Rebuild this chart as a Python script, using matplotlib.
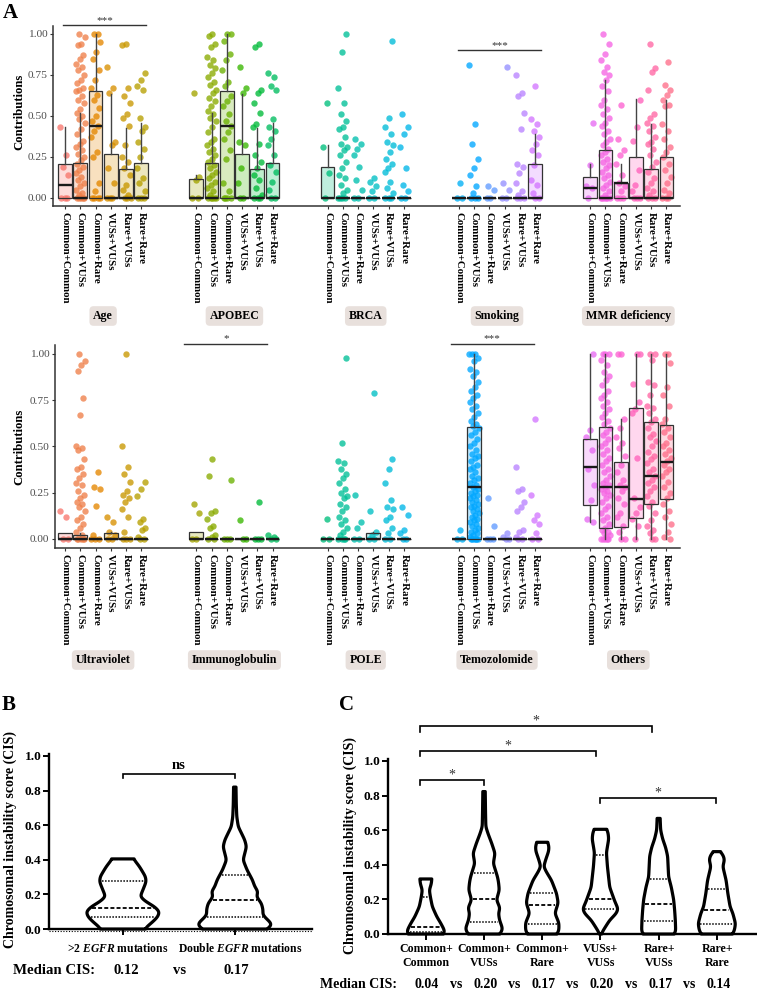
import numpy as np
import matplotlib
matplotlib.use('Agg')
import matplotlib.pyplot as plt

plt.rcParams['font.family'] = ['Liberation Serif', 'DejaVu Serif']
plt.rcParams['mathtext.fontset'] = 'custom'
plt.rcParams['mathtext.rm'] = 'Liberation Serif:bold'
plt.rcParams['mathtext.it'] = 'Liberation Serif:italic:bold'
plt.rcParams['mathtext.bf'] = 'Liberation Serif:bold'

# ------------------------------------------------------------------ DATA
groups = ["Common+Common", "Common+VUSs", "Common+Rare", "VUSs+VUSs", "Rare+VUSs", "Rare+Rare"]
top_facets = ["Age", "APOBEC", "BRCA", "Smoking", "MMR deficiency"]
bottom_facets = ["Ultraviolet", "Immunoglobulin", "POLE", "Temozolomide", "Others"]

# points (signature contributions) per group
pts_age = [
    [0.43, 0.26, 0.19, 0.14, 0.0, 0.0, 0.0],
    [1.0, 0.98, 0.94, 0.93, 0.87, 0.85, 0.82, 0.80, 0.78, 0.75, 0.72, 0.70, 0.67, 0.66, 0.65, 0.62, 0.60, 0.58,
     0.54, 0.52, 0.50, 0.48, 0.46, 0.42, 0.39, 0.35, 0.33, 0.31, 0.29, 0.27, 0.25, 0.23, 0.21, 0.19, 0.17, 0.15,
     0.13, 0.11, 0.09, 0.07, 0.05, 0.03, 0.02, 0.0, 0.0, 0.0, 0.0, 0.0],
    [1.0, 1.0, 0.95, 0.89, 0.85, 0.78, 0.72, 0.67, 0.63, 0.60, 0.55, 0.50, 0.47, 0.44, 0.41, 0.37, 0.28, 0.25,
     0.09, 0.04, 0.0, 0.0, 0.0, 0.0],
    [0.80, 0.67, 0.64, 0.34, 0.32, 0.18, 0.09, 0.0, 0.0, 0.0],
    [0.94, 0.93, 0.67, 0.62, 0.58, 0.51, 0.49, 0.44, 0.32, 0.25, 0.22, 0.18, 0.14, 0.08, 0.05, 0.02, 0.0, 0.0, 0.0],
    [0.76, 0.72, 0.68, 0.66, 0.49, 0.43, 0.41, 0.34, 0.30, 0.25, 0.18, 0.12, 0.09, 0.04, 0.0, 0.0, 0.0],
]
pts_apobec = [
    [0.64, 0.13, 0.11, 0.0, 0.0],
    [1.0, 0.99, 0.94, 0.92, 0.86, 0.84, 0.81, 0.79, 0.76, 0.74, 0.71, 0.69, 0.66, 0.64, 0.61, 0.59, 0.56, 0.53,
     0.51, 0.49, 0.47, 0.43, 0.40, 0.36, 0.34, 0.32, 0.30, 0.28, 0.26, 0.24, 0.22, 0.20, 0.18, 0.16, 0.14, 0.12,
     0.10, 0.08, 0.06, 0.04, 0.02, 0.0, 0.0, 0.0, 0.0, 0.0],
    [1.0, 1.0, 0.96, 0.88, 0.84, 0.78, 0.71, 0.68, 0.62, 0.59, 0.56, 0.51, 0.47, 0.44, 0.40, 0.36, 0.29, 0.24,
     0.09, 0.04, 0.0, 0.0, 0.0, 0.0],
    [0.80, 0.67, 0.64, 0.34, 0.32, 0.18, 0.09, 0.0, 0.0],
    [0.94, 0.92, 0.66, 0.64, 0.58, 0.52, 0.45, 0.43, 0.33, 0.26, 0.22, 0.18, 0.14, 0.11, 0.06, 0.02, 0.0, 0.0, 0.0],
    [0.76, 0.74, 0.68, 0.66, 0.48, 0.43, 0.41, 0.36, 0.32, 0.26, 0.20, 0.16, 0.10, 0.05, 0.0, 0.0],
]
pts_brca = [
    [0.58, 0.31, 0.15, 0.0],
    [1.0, 0.89, 0.67, 0.58, 0.51, 0.47, 0.43, 0.42, 0.37, 0.33, 0.31, 0.29, 0.26, 0.22, 0.18, 0.14, 0.12, 0.08,
     0.05, 0.03, 0.0, 0.0, 0.0, 0.0],
    [0.36, 0.33, 0.30, 0.26, 0.19, 0.11, 0.05, 0.0, 0.0],
    [0.12, 0.10, 0.07, 0.04, 0.0, 0.0],
    [0.96, 0.49, 0.43, 0.39, 0.34, 0.32, 0.28, 0.24, 0.21, 0.18, 0.16, 0.10, 0.06, 0.03, 0.0, 0.0, 0.0],
    [0.51, 0.43, 0.39, 0.31, 0.18, 0.08, 0.04, 0.0, 0.0],
]
pts_smoking = [
    [0.09, 0.0, 0.0],
    [0.81, 0.45, 0.33, 0.24, 0.18, 0.14, 0.07, 0.03, 0.0, 0.0, 0.0],
    [0.07, 0.05, 0.0, 0.0],
    [0.80, 0.09, 0.05, 0.0, 0.0],
    [0.75, 0.64, 0.62, 0.52, 0.42, 0.21, 0.19, 0.15, 0.09, 0.04, 0.02, 0.0, 0.0, 0.0],
    [0.68, 0.48, 0.45, 0.41, 0.37, 0.33, 0.29, 0.26, 0.20, 0.11, 0.08, 0.03, 0.0, 0.0],
]
pts_mmr = [
    [0.46, 0.20, 0.07, 0.06, 0.0],
    [1.0, 0.94, 0.88, 0.84, 0.80, 0.77, 0.75, 0.72, 0.68, 0.65, 0.60, 0.57, 0.54, 0.51, 0.49, 0.46, 0.44, 0.41,
     0.39, 0.36, 0.34, 0.32, 0.30, 0.28, 0.26, 0.24, 0.22, 0.20, 0.18, 0.16, 0.14, 0.12, 0.10, 0.08, 0.06, 0.04,
     0.02, 0.0, 0.0, 0.0, 0.0, 0.0, 0.0],
    [0.57, 0.36, 0.29, 0.26, 0.21, 0.14, 0.09, 0.07, 0.04, 0.0, 0.0, 0.0],
    [0.60, 0.43, 0.35, 0.17, 0.08, 0.04, 0.0, 0.0, 0.0],
    [0.94, 0.79, 0.77, 0.66, 0.51, 0.49, 0.46, 0.44, 0.41, 0.37, 0.34, 0.33, 0.30, 0.26, 0.22, 0.19, 0.16, 0.12,
     0.09, 0.06, 0.04, 0.02, 0.0, 0.0, 0.0],
    [0.83, 0.69, 0.66, 0.63, 0.60, 0.57, 0.56, 0.45, 0.41, 0.36, 0.31, 0.28, 0.25, 0.21, 0.17, 0.13, 0.09, 0.05,
     0.03, 0.0, 0.0, 0.0],
]
pts_uv = [
    [0.15, 0.12, 0.0, 0.0],
    [1.0, 0.96, 0.94, 0.91, 0.76, 0.67, 0.50, 0.49, 0.48, 0.43, 0.39, 0.38, 0.35, 0.33, 0.30, 0.29, 0.26, 0.24,
     0.22, 0.20, 0.19, 0.17, 0.15, 0.12, 0.10, 0.08, 0.06, 0.04, 0.02, 0.0, 0.0, 0.0, 0.0, 0.0],
    [0.36, 0.28, 0.27, 0.18, 0.02, 0.0, 0.0, 0.0],
    [0.12, 0.09, 0.04, 0.02, 0.0, 0.0],
    [1.0, 0.50, 0.39, 0.35, 0.31, 0.26, 0.24, 0.22, 0.20, 0.16, 0.12, 0.04, 0.0, 0.0, 0.0],
    [0.31, 0.27, 0.23, 0.11, 0.09, 0.06, 0.05, 0.01, 0.0, 0.0],
]
pts_immuno = [
    [0.19, 0.14, 0.0, 0.0],
    [0.43, 0.34, 0.15, 0.14, 0.11, 0.07, 0.06, 0.02, 0.01, 0.0, 0.0],
    [0.32, 0.0, 0.0, 0.0],
    [0.10, 0.0, 0.0],
    [0.20, 0.0, 0.0, 0.0],
    [0.02, 0.01, 0.0, 0.0],
]
pts_pole = [
    [0.11, 0.0, 0.0],
    [0.98, 0.52, 0.42, 0.41, 0.38, 0.35, 0.33, 0.30, 0.27, 0.25, 0.23, 0.22, 0.19, 0.17, 0.15, 0.12, 0.10, 0.08,
     0.06, 0.04, 0.02, 0.0, 0.0, 0.0, 0.0],
    [0.24, 0.09, 0.06, 0.0, 0.0],
    [0.79, 0.15, 0.04, 0.02, 0.0, 0.0],
    [0.43, 0.38, 0.30, 0.21, 0.17, 0.16, 0.12, 0.10, 0.06, 0.03, 0.0, 0.0],
    [0.17, 0.13, 0.05, 0.03, 0.0, 0.0],
]
pts_temo = [
    [0.05, 0.0, 0.0],
    [1.0, 1.0, 1.0, 0.98, 0.96, 0.92, 0.90, 0.88, 0.85, 0.82, 0.80, 0.78, 0.76, 0.74, 0.72, 0.70, 0.68, 0.66,
     0.64, 0.62, 0.61, 0.60, 0.58, 0.56, 0.54, 0.52, 0.50, 0.48, 0.46, 0.45, 0.44, 0.42, 0.40, 0.39, 0.38, 0.36,
     0.34, 0.33, 0.32, 0.30, 0.29, 0.28, 0.27, 0.26, 0.25, 0.24, 0.23, 0.22, 0.21, 0.20, 0.19, 0.18, 0.17, 0.16,
     0.15, 0.14, 0.13, 0.12, 0.11, 0.10, 0.09, 0.08, 0.07, 0.06, 0.05, 0.04, 0.03, 0.02, 0.01, 0.0, 0.0, 0.0,
     0.0, 0.0, 0.0],
    [0.22, 0.07, 0.0, 0.0, 0.0],
    [0.03, 0.01, 0.0, 0.0],
    [0.39, 0.27, 0.26, 0.20, 0.17, 0.15, 0.05, 0.04, 0.01, 0.0, 0.0],
    [0.65, 0.24, 0.13, 0.10, 0.08, 0.03, 0.0, 0.0],
]
pts_others = [
    [1.0, 0.59, 0.55, 0.48, 0.38, 0.29, 0.21, 0.11, 0.09],
    [1.0, 1.0, 1.0, 0.97, 0.94, 0.90, 0.88, 0.86, 0.83, 0.80, 0.78, 0.76, 0.74, 0.72, 0.70, 0.68, 0.66, 0.64,
     0.62, 0.60, 0.58, 0.56, 0.54, 0.52, 0.50, 0.48, 0.46, 0.44, 0.42, 0.40, 0.38, 0.36, 0.34, 0.32, 0.30, 0.29,
     0.28, 0.27, 0.26, 0.25, 0.24, 0.22, 0.20, 0.18, 0.16, 0.14, 0.12, 0.10, 0.08, 0.06, 0.05, 0.04, 0.03, 0.02,
     0.01, 0.0, 0.0, 0.0, 0.0, 0.0],
    [1.0, 1.0, 0.65, 0.60, 0.55, 0.52, 0.49, 0.45, 0.40, 0.36, 0.32, 0.29, 0.28, 0.26, 0.22, 0.19, 0.14, 0.12,
     0.07, 0.04, 0.0, 0.0],
    [1.0, 1.0, 0.84, 0.74, 0.70, 0.68, 0.44, 0.22, 0.17, 0.14, 0.11, 0.07, 0.0],
    [1.0, 1.0, 0.97, 0.85, 0.83, 0.78, 0.72, 0.71, 0.68, 0.65, 0.63, 0.60, 0.57, 0.55, 0.53, 0.50, 0.47, 0.45,
     0.43, 0.41, 0.38, 0.36, 0.34, 0.32, 0.30, 0.28, 0.26, 0.23, 0.20, 0.18, 0.14, 0.10, 0.07, 0.05, 0.03, 0.0, 0.0],
    [1.0, 1.0, 0.95, 0.82, 0.78, 0.72, 0.65, 0.62, 0.60, 0.58, 0.55, 0.52, 0.50, 0.48, 0.46, 0.44, 0.42, 0.40,
     0.38, 0.36, 0.34, 0.31, 0.28, 0.25, 0.22, 0.19, 0.15, 0.12, 0.08, 0.04, 0.01, 0.0],
]

# box statistics per group: (whisker low, q1, median, q3, whisker high)
Z = (0, 0, 0, 0, 0)
box_age = [(0, 0, 0.077, 0.21, 0.43), (0, 0, 0, 0.215, 0.52), (0, 0, 0.438, 0.652, 1.0),
           (0, 0, 0, 0.267, 0.637), (0, 0, 0, 0.179, 0.428), (0, 0, 0, 0.216, 0.46)]
box_apobec = [(0, 0, 0, 0.118, 0.14), (0, 0, 0, 0.215, 0.52), (0, 0, 0.438, 0.652, 1.0),
              (0, 0, 0, 0.267, 0.637), (0, 0, 0, 0.179, 0.428), (0, 0, 0, 0.216, 0.46)]
box_brca = [(0, 0, 0, 0.19, 0.32), Z, Z, Z, Z, Z]
box_smoking = [Z, Z, Z, Z, Z, (0, 0, 0, 0.206, 0.393)]
box_mmr = [(0, 0, 0.061, 0.13, 0.21), (0, 0, 0, 0.291, 0.72), (0, 0, 0.09, 0.09, 0.21),
           (0, 0, 0, 0.25, 0.603), (0, 0, 0, 0.179, 0.45), (0, 0, 0, 0.25, 0.60)]
box_uv = [(0, 0, 0, 0.03, 0.03), (0, 0, 0, 0.02, 0.03), Z, (0, 0, 0, 0.03, 0.04), Z, Z]
box_immuno = [(0, 0, 0, 0.035, 0.035), Z, Z, Z, Z, Z]
box_pole = [Z, Z, Z, (0, 0, 0, 0.03, 0.04), Z, Z]
box_temo = [Z, (0, 0, 0.281, 0.607, 1.0), Z, Z, Z, Z]
box_others = [(0.09, 0.184, 0.391, 0.539, 1.0), (0, 0.058, 0.281, 0.607, 1.0), (0, 0.067, 0.283, 0.414, 0.649),
              (0, 0.115, 0.214, 0.708, 1.0), (0, 0.187, 0.342, 0.631, 1.0), (0, 0.218, 0.416, 0.616, 1.0)]

# significance bars: (facet, start group, end group, y, label)
sig_top = [(0, -0.13, 5.33, 1.055, "***"), (3, -0.04, 5.36, 0.90, "***")]
sig_bottom = [(1, -0.79, 4.66, 1.056, "*"), (3, -0.52, 4.9, 1.056, "***")]

# Panel B: violin profiles (CIS value, relative density/half-width)
b_labels = [r">2 $\mathit{EGFR}$ mutations", r"Double $\mathit{EGFR}$ mutations"]
b_median_text = ["0.12", "0.17"]
b_v1_y = [0.0, 0.013, 0.042, 0.071, 0.10, 0.129, 0.158, 0.187, 0.225, 0.273, 0.302, 0.36, 0.405]
b_v1_w = [22, 24, 30, 35, 36.7, 31.7, 23, 17.3, 20, 23.3, 22.7, 16.7, 10.7]
b_v2_y = [0.0, 0.012, 0.033, 0.052, 0.081, 0.11, 0.148, 0.187, 0.216, 0.245, 0.283, 0.341, 0.399, 0.437,
          0.476, 0.514, 0.562, 0.591, 0.649, 0.72, 0.82]
b_v2_w = [31, 36, 36.7, 33, 28, 28.3, 26.7, 21.7, 23.3, 20, 17.7, 12.3, 8.3, 10, 11.7, 10, 6, 3.5, 2, 1.5, 1.2]
b_quart = [(0.067, 0.119, 0.28), (0.071, 0.168, 0.312)]   # (q1, median, q3)
b_sig = [(1, 2, 0.896, "ns")]

# Panel C
c_labels = ["Common+\nCommon", "Common+\nVUSs", "Common+\nRare", "VUSs+\nVUSs", "Rare+\nVUSs", "Rare+\nRare"]
c_median_text = ["0.04", "0.20", "0.17", "0.20", "0.17", "0.14"]
c_v_y = [
    [0.0, 0.008, 0.023, 0.062, 0.10, 0.158, 0.216, 0.254, 0.29, 0.318],
    [0.0, 0.01, 0.033, 0.081, 0.12, 0.15, 0.197, 0.254, 0.30, 0.33, 0.408, 0.466, 0.524, 0.58, 0.62, 0.70, 0.823],
    [0.0, 0.008, 0.025, 0.064, 0.12, 0.18, 0.235, 0.31, 0.36, 0.39, 0.43, 0.48, 0.51, 0.53],
    [0.0, 0.008, 0.035, 0.08, 0.12, 0.145, 0.19, 0.27, 0.39, 0.47, 0.55, 0.59, 0.605],
    [0.0, 0.01, 0.03, 0.08, 0.14, 0.20, 0.27, 0.33, 0.39, 0.45, 0.50, 0.55, 0.60, 0.668],
    [0.0, 0.01, 0.025, 0.06, 0.12, 0.157, 0.235, 0.31, 0.39, 0.43, 0.46, 0.476],
]
c_v_w = [
    [17, 19, 18.5, 15, 11, 6.5, 4.5, 3.5, 5.5, 6],
    [15, 17.5, 18.5, 15.5, 14.5, 16, 12.5, 15.3, 14.5, 13.5, 9.3, 11, 7.7, 4, 1.8, 1.5, 1.2],
    [14, 16, 16.7, 16.7, 12.7, 16, 14.3, 9.3, 4, 1.5, 3.5, 6.5, 6.7, 5.3],
    [1, 1.5, 4.3, 9.3, 16, 17.7, 14.3, 9.3, 7, 6, 8.3, 7.5, 6],
    [15, 17, 17, 16.7, 16, 15, 12.7, 10, 9.5, 9, 7, 4, 2, 1.5],
    [15, 17, 17.7, 18.7, 16, 13.3, 11, 9.3, 6, 7.7, 6, 3],
]
c_quart = [(0.012, 0.042, 0.216), (0.071, 0.20, 0.35), (0.058, 0.168, 0.239),
           (0.143, 0.202, 0.458), (0.077, 0.171, 0.318), (0.058, 0.139, 0.26)]
c_sig = [(0.9, 2.0, 0.89, "*"), (0.9, 3.93, 1.058, "*"), (0.9, 4.88, 1.20, "*"), (4.0, 5.98, 0.786, "*")]

# ------------------------------------------------------------------ STYLE / LAYOUT
W, H = 757, 992
fig = plt.figure(figsize=(W / 100, H / 100), dpi=100)


def axpx(x0, y0, x1, y1):
    return fig.add_axes([x0 / W, 1 - y1 / H, (x1 - x0) / W, (y1 - y0) / H])


def tpx(x, y, s, **kw):
    return fig.text(x / W, 1 - y / H, s, **kw)


def hue_color(i, n=30):
    h = 15 + 360.0 * i / n
    L, C = 65.0, 100.0
    hr = np.deg2rad(h)
    u, v = C * np.cos(hr), C * np.sin(hr)
    Xn, Yn, Zn = 95.047, 100.0, 108.883
    den = Xn + 15 * Yn + 3 * Zn
    un, vn = 4 * Xn / den, 9 * Yn / den
    Y = Yn * ((L + 16) / 116) ** 3
    up, vp = u / (13 * L) + un, v / (13 * L) + vn
    X = 9 * Y * up / (4 * vp)
    Zc = Y * (12 - 3 * up - 20 * vp) / (4 * vp)
    X, Y, Zc = X / 100, Y / 100, Zc / 100
    r = 3.2404542 * X - 1.5371385 * Y - 0.4985314 * Zc
    g = -0.9692660 * X + 1.8760108 * Y + 0.0415560 * Zc
    b = 0.0556434 * X - 0.2040259 * Y + 1.0572252 * Zc

    def gam(c):
        c = 12.92 * c if c <= 0.0031308 else 1.055 * c ** (1 / 2.4) - 0.055
        return min(1.0, max(0.0, c))
    return (gam(r), gam(g), gam(b))


PITCH = 8.61          # facet pitch in group units
X0PX, UNITPX = 65.0, 15.25


def draw_row(ax, facets, pts, boxes, sigs, strip_y):
    ticks, labs = [], []
    for f in range(5):
        for g in range(6):
            x = f * PITCH + g
            col = hue_color(f * 6 + g)
            vals = np.asarray(pts[f][g], dtype=float)
            n = len(vals)
            jit = ((((np.arange(n) * 0.6180339887) + 0.37 * g + 0.21 * f) % 1.0) - 0.5) * 0.62
            ax.scatter(x + jit, vals, s=21, color=col, alpha=0.78, lw=0, zorder=2, clip_on=False)
            lo, q1, med, q3, hi = boxes[f][g]
            st = [dict(med=med, q1=q1, q3=q3, whislo=lo, whishi=hi, fliers=[])]
            ax.bxp(st, positions=[x], widths=0.9, patch_artist=True, showcaps=False, showfliers=False,
                   boxprops=dict(facecolor=(*col, 0.25), edgecolor='#333333', linewidth=0.9),
                   medianprops=dict(color='#1a1a1a', linewidth=1.7, solid_capstyle='butt'),
                   whiskerprops=dict(color='#444444', linewidth=1.0),
                   manage_ticks=False, zorder=3)
            ticks.append(x)
            labs.append(groups[g])
        cx = X0PX + (f * PITCH + 2.5) * UNITPX
        tpx(cx, strip_y, facets[f], ha='center', va='center', fontsize=8.6, fontweight='bold',
            bbox=dict(boxstyle='round,pad=0.32,rounding_size=0.35', fc='#e8e0dc', ec='none'))
    for f, a, b, y, lab in sigs:
        xa, xb = f * PITCH + a, f * PITCH + b
        ax.plot([xa, xb], [y, y], color='#333333', lw=1.0, clip_on=False, zorder=4)
        ax.text((xa + xb) / 2, y + 0.028, lab, ha='center', va='center', fontsize=8, color='#333333')
    ax.set_xticks(ticks)
    ax.set_xticklabels(labs, rotation=-90, fontsize=7.8, fontweight='bold', color='black')
    ax.set_ylim(-0.049, 1.1)
    ax.set_yticks([0, 0.25, 0.5, 0.75, 1.0])
    ax.set_yticklabels(['0.00', '0.25', '0.50', '0.75', '1.00'], fontsize=8.2, color='#4d4d4d')
    for s in ['top', 'right']:
        ax.spines[s].set_visible(False)
    for s in ['left', 'bottom']:
        ax.spines[s].set_color('#333333')
        ax.spines[s].set_linewidth(1.1)
    ax.spines['left'].set_bounds(-0.049, 1.05)
    ax.tick_params(axis='both', length=2.5, width=0.8, color='#333333', pad=1.5)
    ax.set_facecolor('none')


axA1 = axpx(53, 17.6, 680, 206)
axA1.set_xlim((53 - X0PX) / UNITPX, (680 - X0PX) / UNITPX)
draw_row(axA1, top_facets, [pts_age, pts_apobec, pts_brca, pts_smoking, pts_mmr],
         [box_age, box_apobec, box_brca, box_smoking, box_mmr], sig_top, 316)

axA2 = axpx(55, 335.5, 680, 548)
axA2.set_xlim((55 - X0PX) / UNITPX, (680 - X0PX) / UNITPX)
draw_row(axA2, bottom_facets, [pts_uv, pts_immuno, pts_pole, pts_temo, pts_others],
         [box_uv, box_immuno, box_pole, box_temo, box_others], sig_bottom, 660)

tpx(19, 112, 'Contributions', rotation=90, ha='center', va='center', fontsize=9.2, fontweight='bold')
tpx(19, 447, 'Contributions', rotation=90, ha='center', va='center', fontsize=9.2, fontweight='bold')
tpx(10, 13, 'A', ha='center', va='center', fontsize=15, fontweight='bold')


# ------------------------------------------------------------------ violins
def smooth_profile(y, w, n=400, sigma=0.011):
    y = np.asarray(y, float)
    w = np.asarray(w, float)
    yy = np.linspace(y[0], y[-1], n)
    ww = np.interp(yy, y, w)
    dy = yy[1] - yy[0]
    k = max(1, int(3 * sigma / dy))
    ker = np.exp(-0.5 * ((np.arange(-k, k + 1) * dy) / sigma) ** 2)
    ker /= ker.sum()
    pad = np.pad(ww, k, mode='edge')
    return yy, np.convolve(pad, ker, mode='valid')


def draw_violin(ax, c, y, w, scale, quart):
    yy, ws = smooth_profile(y, w)
    hw = ws * scale
    xs = np.concatenate([c + hw, (c - hw)[::-1]])
    ys = np.concatenate([yy, yy[::-1]])
    ax.fill(xs, ys, facecolor='white', edgecolor='black', lw=2.3, joinstyle='round',
            clip_on=False, zorder=3)
    q1, med, q3 = quart
    for q, ls, lw in [(q1, (0, (1, 1)), 1.1), (med, (0, (2.2, 1.2)), 1.3), (q3, (0, (1, 1)), 1.1)]:
        h = np.interp(q, yy, hw) - 2.0 * scale
        if h > 0:
            ax.plot([c - h, c + h], [q, q], color='black', ls=ls, lw=lw, zorder=4, clip_on=False)


def style_cis_axes(ax):
    for s in ['top', 'right']:
        ax.spines[s].set_visible(False)
    for s in ['left', 'bottom']:
        ax.spines[s].set_linewidth(1.7)
        ax.spines[s].set_color('black')
    ax.set_ylim(0, 1.02)
    ax.spines['left'].set_bounds(0, 1.01)
    ax.set_yticks([0, 0.2, 0.4, 0.6, 0.8, 1.0])
    ax.set_yticklabels(['0.0', '0.2', '0.4', '0.6', '0.8', '1.0'], fontsize=9.6, fontweight='bold')
    ax.tick_params(axis='both', length=4, width=1.4, color='black', pad=1.5, direction='out')
    ax.set_facecolor('none')


def bracket(ax, xa, xb, y, lab, drop=0.025, fs=10.5, dy=0.035, weight='bold', color='black'):
    ax.plot([xa, xa, xb, xb], [y - drop, y, y, y - drop], color='black', lw=1.2, clip_on=False,
            solid_joinstyle='miter')
    ax.text((xa + xb) / 2, y + dy, lab, ha='center', va='center', fontsize=fs, fontweight=weight,
            color=color, clip_on=False)


# Panel B
axB = axpx(49, 752.5, 312, 929)
axB.set_xlim(0.34, 2.69)
style_cis_axes(axB)
axB.set_xticks([1, 2])
axB.set_xticklabels(['', ''])
axB.plot([0.34, 2.69], [-0.012, -0.012], color='black', ls=(0, (1, 1.5)), lw=0.8, clip_on=False)
draw_violin(axB, 1, b_v1_y, b_v1_w, 1 / 112.0, b_quart[0])
draw_violin(axB, 2, b_v2_y, b_v2_w, 1 / 112.0, b_quart[1])
for xa, xb, y, lab in b_sig:
    bracket(axB, xa, xb, y, lab, drop=0.022, fs=10.5, dy=0.05)
tpx(9, 705, 'B', ha='center', va='center', fontsize=15, fontweight='bold')
tpx(10, 840, 'Chromosomal instability score (CIS)', rotation=90, ha='center', va='center',
    fontsize=10, fontweight='bold')
tpx(118, 949, b_labels[0], ha='center', va='center', fontsize=8.4, fontweight='bold')
tpx(240, 949, b_labels[1], ha='center', va='center', fontsize=8.4, fontweight='bold')
tpx(13, 970, 'Median CIS:', ha='left', va='center', fontsize=10.7, fontweight='bold')
tpx(126, 970, b_median_text[0], ha='center', va='center', fontsize=10.5, fontweight='bold')
tpx(180, 970, 'vs', ha='center', va='center', fontsize=10.5, fontweight='bold')
tpx(236, 970, b_median_text[1], ha='center', va='center', fontsize=10.5, fontweight='bold')

# Panel C
axC = axpx(388, 757.5, 757, 934)
axC.set_xlim(0.35, 6.69)
style_cis_axes(axC)
axC.set_xticks(range(1, 7))
axC.set_xticklabels([''] * 6)
for i in range(6):
    draw_violin(axC, i + 1, c_v_y[i], c_v_w[i], 1 / 58.3, c_quart[i])
for xa, xb, y, lab in c_sig:
    bracket(axC, xa, xb, y, lab, drop=0.03, fs=10, dy=0.03, weight='normal', color='#333333')
tpx(346, 705, 'C', ha='center', va='center', fontsize=15, fontweight='bold')
tpx(350, 846, 'Chromosomal instability score (CIS)', rotation=90, ha='center', va='center',
    fontsize=10, fontweight='bold')
cpx = [388 + (i + 1 - 0.35) * 58.3 for i in range(6)]
for i, lab in enumerate(c_labels):
    tpx(cpx[i], 956, lab, ha='center', va='center', fontsize=8.6, fontweight='bold', linespacing=1.15)
tpx(320, 985, 'Median CIS:', ha='left', va='center', fontsize=10, fontweight='bold')
for i, m in enumerate(c_median_text):
    tpx(cpx[i] + 1, 985, m, ha='center', va='center', fontsize=10, fontweight='bold')
    if i < 5:
        tpx((cpx[i] + cpx[i + 1]) / 2 + 1, 985, 'vs', ha='center', va='center', fontsize=10,
            fontweight='bold')

fig.savefig('out.png', dpi=100)
